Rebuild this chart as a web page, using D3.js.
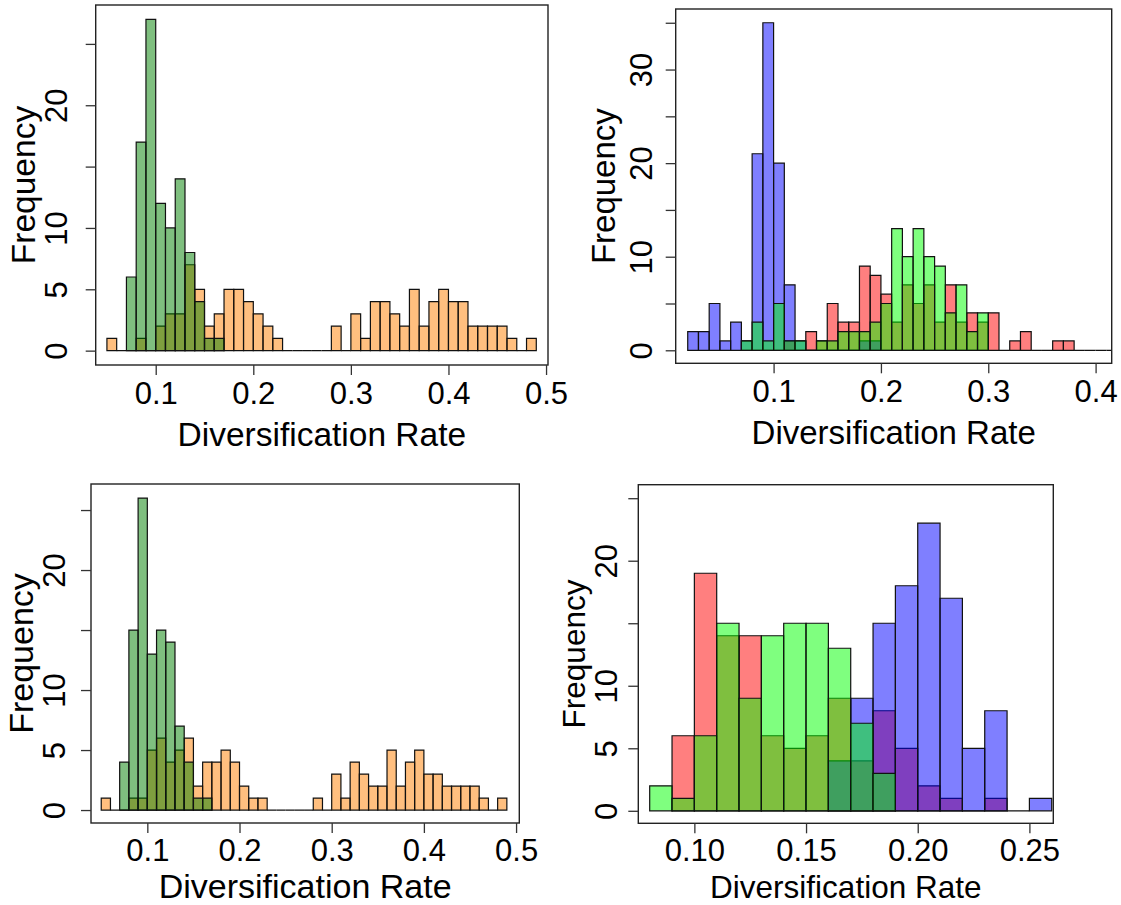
<!DOCTYPE html>
<html>
<head>
<meta charset="utf-8">
<script src="https://cdn.jsdelivr.net/npm/d3@7"></script>
<style>
  html, body { margin: 0; padding: 0; background: #ffffff; }
  svg { display: block; }
  text { font-family: "Liberation Sans", Arial, Helvetica, sans-serif; fill: #000; }
</style>
</head>
<body>
<svg id="chart" width="1121" height="905"></svg>
<script>
// Histogram bin width shared by every panel
const binWidth = 0.01;

// ---- Top-left panel: two overlaid histograms ----
const tlOrangeStart = 0.05;
const tlOrange = [1,0,0,1,0,2,3,3,7,5,2,3,5,5,4,3,2,1,0,0,0,0,0,2,0,3,1,4,4,3,2,5,2,4,5,4,4,2,2,2,2,1,0,1];
const tlGreenStart = 0.07;
const tlGreen = [6,17,27,12,10,14,8,4,1,1];
const tlXTicks = [0.1, 0.2, 0.3, 0.4, 0.5];
const tlXLabels = ["0.1", "0.2", "0.3", "0.4", "0.5"];
const tlYTicks = [0, 5, 10, 15, 20, 25];
const tlYLabels = ["0", "5", "10", "", "20", ""];

// ---- Top-right panel: three overlaid histograms ----
const trRedStart = 0.11;
const trRed = [1,0,2,1,5,3,3,9,8,6,3,7,5,7,3,7,3,4,3,4,0,1,2,0,0,1,1,0,0,0,0];
const trBlueStart = 0.02;
const trBlue = [2,2,5,1,3,1,21,35,20,7,1,0,0,0,0,0,1,1];
const trGreenStart = 0.07;
const trGreen = [1,3,1,5,1,1,0,1,1,2,2,2,3,5,13,10,13,10,9,4,7,2,4];
const trXTicks = [0.1, 0.2, 0.3, 0.4];
const trXLabels = ["0.1", "0.2", "0.3", "0.4"];
const trYTicks = [0, 5, 10, 15, 20, 25, 30, 35];
const trYLabels = ["0", "", "10", "", "20", "", "30", ""];

// ---- Bottom-left panel ----
const blOrangeStart = 0.05;
const blOrange = [1,0,0,1,1,5,6,4,5,6,2,4,4,5,4,2,1,1,0,0,0,0,0,1,0,3,1,4,3,2,2,5,2,4,5,3,3,2,2,2,2,1,0,1];
const blGreenStart = 0.07;
const blGreen = [4,15,26,13,15,14,7,4,1,1];
const blXTicks = [0.1, 0.2, 0.3, 0.4, 0.5];
const blXLabels = ["0.1", "0.2", "0.3", "0.4", "0.5"];
const blYTicks = [0, 5, 10, 15, 20, 25];
const blYLabels = ["0", "5", "10", "", "20", ""];

// ---- Bottom-right panel ----
const brRedStart = 0.09;
const brRed = [6,19,14,14,6,5,6,9,4,8,5,2,1,0,1];
const brBlueStart = 0.16;
const brBlue = [4,9,15,18,23,17,5,8,0,1];
const brGreenStart = 0.08;
const brGreen = [2,1,6,15,9,14,15,15,13,7,3];
const brXTicks = [0.10, 0.15, 0.20, 0.25];
const brXLabels = ["0.10", "0.15", "0.20", "0.25"];
const brYTicks = [0, 5, 10, 15, 20, 25];
const brYLabels = ["0", "5", "10", "", "20", ""];

// Semi-transparent fills (later layers blend over earlier ones)
const cOrange = "rgba(255,128,0,0.5)";
const cDarkGreen = "rgba(0,128,0,0.5)";
const cRed = "rgba(255,0,0,0.5)";
const cBlue = "rgba(0,0,255,0.5)";
const cGreen = "rgba(0,255,0,0.5)";

const xTitle = "Diversification Rate";
const yTitle = "Frequency";

// Panel layout
const panels = [
  {
    box: { x0: 95.7, x1: 548, y0: 5, y1: 365 },
    xDomain: [0.0385, 0.502], yDomain: [-1.17, 28.17],
    series: [
      { start: tlOrangeStart, counts: tlOrange, color: cOrange },
      { start: tlGreenStart, counts: tlGreen, color: cDarkGreen }
    ],
    xTicks: tlXTicks, xLabels: tlXLabels, yTicks: tlYTicks, yLabels: tlYLabels,
    xTickBase: 404, xTitleBase: 446, yTickBase: 66.5, yTitleBase: 35,
    tickFont: 31, titleFont: 33.5
  },
  {
    box: { x0: 675.7, x1: 1111.7, y0: 9, y1: 363.3 },
    xDomain: [0.0088, 0.415], yDomain: [-1.39, 36.47],
    series: [
      { start: trRedStart, counts: trRed, color: cRed },
      { start: trBlueStart, counts: trBlue, color: cBlue },
      { start: trGreenStart, counts: trGreen, color: cGreen }
    ],
    xTicks: trXTicks, xLabels: trXLabels, yTicks: trYTicks, yLabels: trYLabels,
    xTickBase: 402, xTitleBase: 444, yTickBase: 651.7, yTitleBase: 615,
    tickFont: 31, titleFont: 33
  },
  {
    box: { x0: 91, x1: 519.3, y0: 484, y1: 823 },
    xDomain: [0.0389, 0.5035], yDomain: [-1.08, 27.17],
    series: [
      { start: blOrangeStart, counts: blOrange, color: cOrange },
      { start: blGreenStart, counts: blGreen, color: cDarkGreen }
    ],
    xTicks: blXTicks, xLabels: blXLabels, yTicks: blYTicks, yLabels: blYLabels,
    xTickBase: 861, xTitleBase: 898, yTickBase: 65, yTitleBase: 33,
    tickFont: 31, titleFont: 34
  },
  {
    box: { x0: 638.3, x1: 1053.3, y0: 484.7, y1: 823.3 },
    xDomain: [0.0749, 0.2607], yDomain: [-1.0, 26.08],
    series: [
      { start: brRedStart, counts: brRed, color: cRed },
      { start: brBlueStart, counts: brBlue, color: cBlue },
      { start: brGreenStart, counts: brGreen, color: cGreen }
    ],
    xTicks: brXTicks, xLabels: brXLabels, yTicks: brYTicks, yLabels: brYLabels,
    xTickBase: 861, xTitleBase: 898, yTickBase: 617, yTitleBase: 585,
    tickFont: 31, titleFont: 31.5
  }
];

const svg = d3.select("#chart");
const defs = svg.append("defs");

panels.forEach((p, idx) => {
  const b = p.box;
  const x = d3.scaleLinear().domain(p.xDomain).range([b.x0, b.x1]);
  const y = d3.scaleLinear().domain(p.yDomain).range([b.y1, b.y0]);
  const g = svg.append("g").attr("class", "panel");

  const clipId = "plot-clip-" + idx;
  defs.append("clipPath").attr("id", clipId)
    .append("rect")
    .attr("x", b.x0).attr("y", b.y0)
    .attr("width", b.x1 - b.x0).attr("height", b.y1 - b.y0);

  const plot = g.append("g").attr("clip-path", `url(#${clipId})`);

  // Histogram bars; empty bins collapse to a line on the baseline
  p.series.forEach(s => {
    const bins = s.counts.map((n, i) => ({
      x0: +(s.start + i * binWidth).toFixed(4),
      x1: +(s.start + (i + 1) * binWidth).toFixed(4),
      n: n
    }));
    plot.append("g").selectAll("path")
      .data(bins)
      .join("path")
      .attr("d", d => `M${x(d.x0)},${y(0)}V${y(d.n)}H${x(d.x1)}V${y(0)}Z`)
      .attr("fill", s.color)
      .attr("stroke", "#111")
      .attr("stroke-width", 1.2)
      .attr("stroke-linejoin", "miter");
  });

  // Plot frame
  g.append("rect")
    .attr("x", b.x0).attr("y", b.y0)
    .attr("width", b.x1 - b.x0).attr("height", b.y1 - b.y0)
    .attr("fill", "none").attr("stroke", "#222").attr("stroke-width", 1.4);

  // Bottom axis
  const xAxis = d3.axisBottom(x)
    .tickValues(p.xTicks)
    .tickFormat((d, i) => p.xLabels[i])
    .tickSize(10).tickSizeOuter(0).tickPadding(0);
  const gx = g.append("g")
    .attr("transform", `translate(0,${b.y1})`)
    .call(xAxis)
    .attr("font-size", null).attr("font-family", null);
  gx.select(".domain").remove();
  gx.selectAll(".tick line").attr("stroke", "#333").attr("stroke-width", 1.3);
  gx.selectAll(".tick text")
    .attr("y", p.xTickBase - b.y1).attr("dy", 0)
    .style("font-size", p.tickFont + "px")
    .attr("fill", "#000");

  // Left axis with vertical labels
  const yAxis = d3.axisLeft(y)
    .tickValues(p.yTicks)
    .tickFormat((d, i) => p.yLabels[i])
    .tickSize(10).tickSizeOuter(0).tickPadding(0);
  const gy = g.append("g")
    .attr("transform", `translate(${b.x0},0)`)
    .call(yAxis)
    .attr("font-size", null).attr("font-family", null);
  gy.select(".domain").remove();
  gy.selectAll(".tick line").attr("stroke", "#333").attr("stroke-width", 1.3);
  gy.selectAll(".tick text")
    .attr("x", 0).attr("y", 0).attr("dy", 0)
    .attr("text-anchor", "middle")
    .attr("transform", `translate(${p.yTickBase - b.x0},0) rotate(-90)`)
    .style("font-size", p.tickFont + "px")
    .attr("fill", "#000");

  // Axis titles
  g.append("text")
    .attr("x", (b.x0 + b.x1) / 2).attr("y", p.xTitleBase)
    .attr("text-anchor", "middle")
    .style("font-size", p.titleFont + "px")
    .text(xTitle);

  g.append("text")
    .attr("text-anchor", "middle")
    .attr("transform", `translate(${p.yTitleBase},${(b.y0 + b.y1) / 2}) rotate(-90)`)
    .style("font-size", p.titleFont + "px")
    .text(yTitle);
});
</script>
</body>
</html>
